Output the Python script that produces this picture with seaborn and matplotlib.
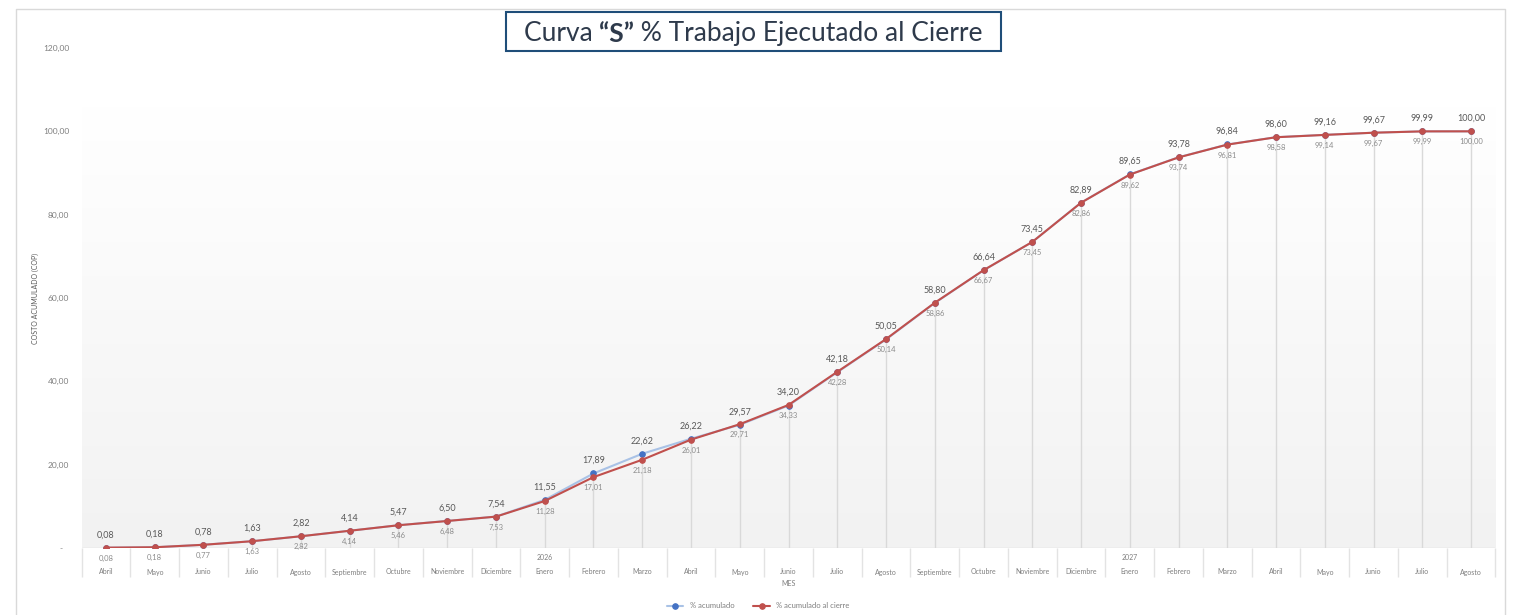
import numpy as np
import pandas as pd
import matplotlib
matplotlib.use("Agg")
import matplotlib.pyplot as plt
import seaborn as sns
from matplotlib.patches import Rectangle
from matplotlib.lines import Line2D
from matplotlib.ticker import FuncFormatter

meses = ["Abril", "Mayo", "Junio", "Julio", "Agosto", "Septiembre", "Octubre",
         "Noviembre", "Diciembre",
         "Enero", "Febrero", "Marzo", "Abril", "Mayo", "Junio", "Julio", "Agosto",
         "Septiembre", "Octubre", "Noviembre", "Diciembre",
         "Enero", "Febrero", "Marzo", "Abril", "Mayo", "Junio", "Julio", "Agosto"]
anios = [""] * 9 + ["2026"] + [""] * 11 + ["2027"] + [""] * 7

acumulado = [0.08, 0.18, 0.78, 1.63, 2.82, 4.14, 5.47, 6.50, 7.54, 11.55, 17.89,
             22.62, 26.22, 29.57, 34.20, 42.18, 50.05, 58.80, 66.64, 73.45, 82.89,
             89.65, 93.78, 96.84, 98.60, 99.16, 99.67, 99.99, 100.00]
acumulado_cierre = [0.08, 0.18, 0.77, 1.63, 2.82, 4.14, 5.46, 6.48, 7.53, 11.28, 17.01,
                    21.18, 26.01, 29.71, 34.33, 42.28, 50.14, 58.86, 66.67, 73.45, 82.86,
                    89.62, 93.74, 96.81, 98.58, 99.14, 99.67, 99.99, 100.00]

df = pd.DataFrame({"pos": np.arange(len(meses)),
                   "acumulado": acumulado,
                   "cierre": acumulado_cierre})

sns.set_theme(style="white")
plt.rcParams["font.family"] = ["Lato", "DejaVu Sans"]

W, H = 1516, 615
fig = plt.figure(figsize=(W / 100, H / 100), dpi=100)
ax = fig.add_axes([81.6 / W, (H - 548) / H, (1495.4 - 81.6) / W, 500 / H])

n = len(meses)
ax.set_xlim(-0.5, n - 0.5)
ax.set_ylim(0, 120)

# gradient plot background
grad = np.linspace(0, 1, 256).reshape(-1, 1)
cmap = matplotlib.colors.LinearSegmentedColormap.from_list("g", ["#f2f2f2", "#ffffff"])
ax.imshow(grad, extent=[-0.5, n - 0.5, 0, 106], origin="lower", aspect="auto",
          cmap=cmap, zorder=0)

# drop lines
ax.vlines(df["pos"], 0, df[["acumulado", "cierre"]].max(axis=1),
          color="#d9d9d9", lw=1, zorder=1)

sns.lineplot(data=df, x="pos", y="acumulado", ax=ax, color="#a9c2e6", lw=1.5,
             marker="o", markersize=4, markerfacecolor="#4472c4",
             markeredgecolor="#4472c4", zorder=3, label="% acumulado")
sns.lineplot(data=df, x="pos", y="cierre", ax=ax, color="#c0504d", lw=1.5,
             marker="o", markersize=4, markerfacecolor="#c0504d",
             markeredgecolor="#c0504d", zorder=4, label="% acumulado al cierre")

def fmt(v):
    return f"{v:.2f}".replace(".", ",")

for i in range(n):
    ax.annotate(fmt(acumulado[i]), (i, acumulado[i]), xytext=(0, 6),
                textcoords="offset points", ha="center", va="bottom",
                fontsize=6.5, color="#595959", zorder=5)
    ax.annotate(fmt(acumulado_cierre[i]), (i, acumulado_cierre[i]), xytext=(0, -5),
                textcoords="offset points", ha="center", va="top",
                fontsize=5.5, color="#8c8c8c", zorder=5)

# axes styling
for s in ax.spines.values():
    s.set_visible(False)
ax.axhline(0, color="#d9d9d9", lw=1, zorder=2)
ax.set_yticks(np.arange(0, 121, 20))
ax.yaxis.set_major_formatter(FuncFormatter(lambda v, p: "-   " if v == 0 else fmt(v)))
ax.tick_params(axis="y", length=0, pad=9, labelsize=6, labelcolor="#7f7f7f")
ax.set_xticks([])
ax.set_xlabel("")
ax.set_ylabel("COSTO ACUMULADO (COP)", fontsize=5, color="#595959", labelpad=3)

# category table under the axis
trans = matplotlib.transforms.blended_transform_factory(ax.transData, ax.transAxes)
ax.vlines(np.arange(n + 1) - 0.5, -0.058, 0, transform=trans, color="#e3e3e3",
          lw=1, clip_on=False)
for i in range(n):
    ax.text(i, -0.048, meses[i], transform=trans, ha="center", va="center",
            fontsize=5, color="#7f7f7f")
    if anios[i]:
        ax.text(i, -0.018, anios[i], transform=trans, ha="center", va="center",
                fontsize=5, color="#7f7f7f")
ax.text(0.5, -0.07, "MES", transform=ax.transAxes, ha="center", va="center",
        fontsize=5, color="#7f7f7f")

ax.legend(loc="center", bbox_to_anchor=(0.5, (H - 606) / H),
          bbox_transform=fig.transFigure, ncol=2, frameon=False, fontsize=5.5,
          labelcolor="#7f7f7f", handlelength=2.2, columnspacing=2.5)

# outer chart frame
fig.add_artist(Line2D([16 / W, 16 / W, 1505 / W, 1505 / W],
                      [0, (H - 9) / H, (H - 9) / H, 0],
                      transform=fig.transFigure, color="#d9d9d9", lw=1))

# title with bold "S" inside a box
ty = (H - 46) / H
tc = "#2e3a4b"
fs = 19
t1 = fig.text(0.3, ty, "Curva ", fontsize=fs, color=tc, ha="left", va="bottom")
t2 = fig.text(0, 0, "\u201cS\u201d", fontsize=fs, color=tc, fontweight="bold",
              ha="left", va="bottom")
t3 = fig.text(0, 0, " % Trabajo Ejecutado al Cierre", fontsize=fs, color=tc,
              ha="left", va="bottom")
fig.canvas.draw()
r = fig.canvas.get_renderer()
w1 = t1.get_window_extent(r).width
w2 = t2.get_window_extent(r).width
w3 = t3.get_window_extent(r).width
total = w1 + w2 + w3
x0 = 753.5 - total / 2
t1.set_position((x0 / W, ty))
t2.set_position(((x0 + w1) / W, ty))
t3.set_position(((x0 + w1 + w2) / W, ty))
fig.canvas.draw()
left, right = 506, 1001
top, bot = H - 12, H - 51
fig.add_artist(Rectangle((left / W, bot / H), (right - left) / W, (top - bot) / H,
                         transform=fig.transFigure, fill=False,
                         edgecolor="#1f4e79", lw=1.5))

fig.savefig("out.png", dpi=100)
